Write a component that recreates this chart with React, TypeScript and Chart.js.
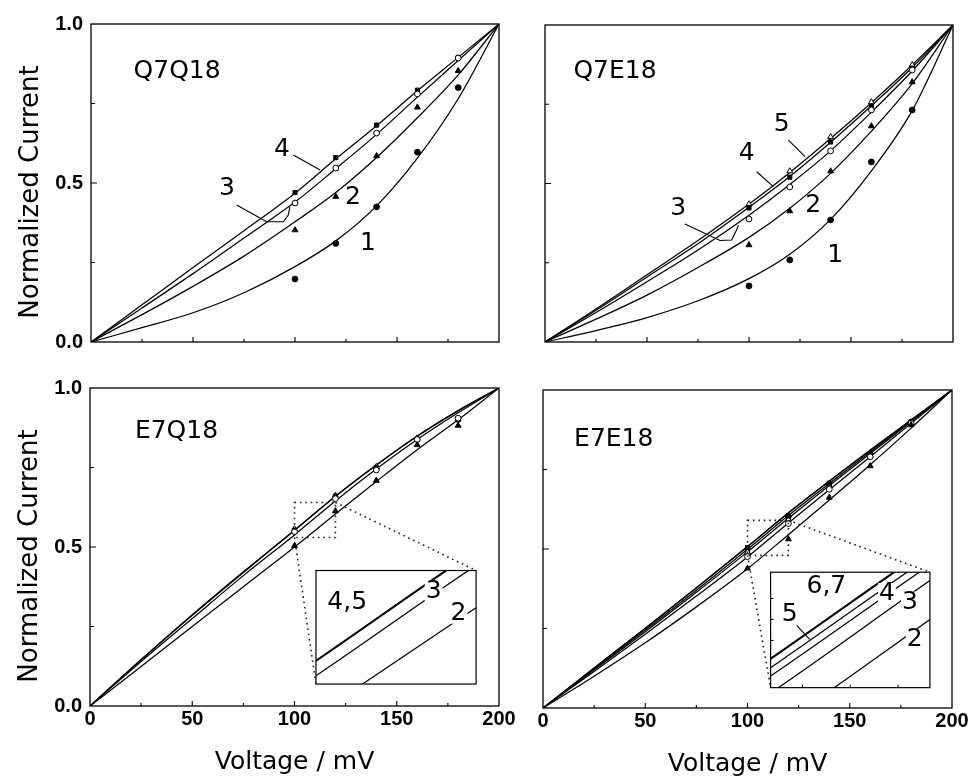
import React, { useEffect, useRef } from 'react';
import { Chart, registerables } from 'chart.js';

Chart.register(...registerables);

// ---------------- data ----------------
const VOLTAGE_FIT = [0, 25, 50, 75, 100, 120, 140, 160, 180, 200];
const VOLTAGE_MEAS = [100, 120, 140, 160, 180];
const X_TICKS = [0, 25, 50, 75, 100, 125, 150, 175, 200];
const X_LABELED = [0, 50, 100, 150, 200];
const Y_TICKS = [0, 0.25, 0.5, 0.75, 1.0];
const Y_LABELED = [0, 0.5, 1.0];

// Q7Q18
const Q7Q18_FIT1 = [0, 0.045, 0.092, 0.155, 0.237, 0.318, 0.428, 0.578, 0.765, 1.0];
const Q7Q18_FIT2 = [0, 0.086, 0.175, 0.27, 0.378, 0.47, 0.58, 0.705, 0.84, 1.0];
const Q7Q18_FIT3 = [0, 0.107, 0.215, 0.327, 0.44, 0.545, 0.653, 0.77, 0.885, 1.0];
const Q7Q18_FIT4 = [0, 0.117, 0.234, 0.35, 0.468, 0.576, 0.68, 0.79, 0.895, 1.0];
const Q7Q18_MEAS1 = [0.198, 0.31, 0.425, 0.597, 0.8];
const Q7Q18_MEAS2 = [0.352, 0.457, 0.585, 0.738, 0.853];
const Q7Q18_MEAS3 = [0.437, 0.547, 0.657, 0.78, 0.893];
const Q7Q18_MEAS4 = [0.47, 0.58, 0.682, 0.792, 0.895];

// Q7E18
const Q7E18_FIT1 = [0, 0.036, 0.077, 0.13, 0.2, 0.277, 0.387, 0.54, 0.73, 1.0];
const Q7E18_FIT2 = [0, 0.072, 0.148, 0.235, 0.33, 0.422, 0.532, 0.665, 0.815, 1.0];
const Q7E18_FIT3 = [0, 0.093, 0.19, 0.29, 0.4, 0.497, 0.603, 0.725, 0.855, 1.0];
const Q7E18_FIT4 = [0, 0.1, 0.205, 0.31, 0.425, 0.522, 0.63, 0.745, 0.866, 1.0];
const Q7E18_FIT5 = [0, 0.104, 0.212, 0.32, 0.435, 0.535, 0.642, 0.755, 0.874, 1.0];
const Q7E18_MEAS1 = [0.177, 0.259, 0.385, 0.568, 0.732];
const Q7E18_MEAS2 = [0.306, 0.413, 0.539, 0.681, 0.82];
const Q7E18_MEAS3 = [0.388, 0.489, 0.603, 0.732, 0.858];
const Q7E18_MEAS4 = [0.423, 0.52, 0.631, 0.744, 0.864];
const Q7E18_MEAS5 = [0.435, 0.539, 0.647, 0.757, 0.874];

// E7Q18
const E7Q18_FIT2 = [0, 0.124, 0.25, 0.375, 0.5, 0.604, 0.706, 0.806, 0.9, 1.0];
const E7Q18_FIT3 = [0, 0.14, 0.275, 0.41, 0.538, 0.645, 0.745, 0.838, 0.922, 1.0];
const E7Q18_FIT4 = [0, 0.145, 0.285, 0.42, 0.552, 0.659, 0.757, 0.848, 0.928, 1.0];
const E7Q18_FIT5 = [0, 0.146, 0.287, 0.422, 0.553, 0.66, 0.758, 0.849, 0.929, 1.0];
const E7Q18_MEAS2 = [0.504, 0.613, 0.709, 0.821, 0.882];
const E7Q18_MEAS3 = [0.548, 0.652, 0.742, 0.838, 0.905];
const E7Q18_MEAS4 = [0.553, 0.66, 0.75, 0.84, 0.9];
const E7Q18_MEAS5 = [0.556, 0.662, 0.752, 0.842, 0.902];

// E7E18
const E7E18_FIT2 = [0, 0.1, 0.205, 0.318, 0.438, 0.545, 0.654, 0.765, 0.88, 1.0];
const E7E18_FIT3 = [0, 0.115, 0.232, 0.352, 0.475, 0.582, 0.686, 0.79, 0.895, 1.0];
const E7E18_FIT4 = [0, 0.12, 0.24, 0.364, 0.491, 0.597, 0.7, 0.8, 0.9, 1.0];
const E7E18_FIT5 = [0, 0.123, 0.245, 0.37, 0.499, 0.605, 0.706, 0.805, 0.903, 1.0];
const E7E18_FIT6 = [0, 0.126, 0.25, 0.377, 0.507, 0.613, 0.713, 0.81, 0.906, 1.0];
const E7E18_FIT7 = [0, 0.126, 0.251, 0.378, 0.508, 0.614, 0.714, 0.811, 0.906, 1.0];
const E7E18_MEAS2 = [0.439, 0.531, 0.662, 0.761, 0.89];
const E7E18_MEAS3 = [0.476, 0.58, 0.688, 0.79, 0.895];
const E7E18_MEAS4 = [0.504, 0.604, 0.707, 0.799, 0.9];
const E7E18_MEAS5 = [0.49, 0.593, 0.698, 0.795, 0.897];
const E7E18_MEAS6 = [0.495, 0.598, 0.702, 0.797, 0.898];
const E7E18_MEAS7 = [0.5, 0.601, 0.705, 0.8, 0.9];

// ---------------- styling / layout ----------------
const W = 971;
const H = 777;
const INK = '#000';
const FONT_TEXT = '"DejaVu Sans", sans-serif';
const FONT_TICK = '"Liberation Sans", Arial, sans-serif';
const TEXT_SIZE = 25;

type Mark = 'dot' | 'ring' | 'tri' | 'otri' | 'sq' | 'osq' | 'dia';
const MARK_STYLE: Record<Mark, { style: string; fill: string; r: number }> = {
  dot: { style: 'circle', fill: INK, r: 2.9 },
  ring: { style: 'circle', fill: '#fff', r: 2.9 },
  tri: { style: 'triangle', fill: INK, r: 3.4 },
  otri: { style: 'triangle', fill: '#fff', r: 3.4 },
  sq: { style: 'rect', fill: INK, r: 2.9 },
  osq: { style: 'rect', fill: '#fff', r: 2.9 },
  dia: { style: 'rectRot', fill: INK, r: 3.1 },
};

interface Series { fit: number[]; meas: number[]; mark: Mark }
interface Note { text: string; x: number; y: number; bg?: boolean }
type Leader = [number, number][];
interface ZoomDef {
  xRange: [number, number];
  yRange: [number, number];
  boxX: [number, number];
  boxY: [number, number];
  notes: Note[];
  leaders: Leader[];
  ticksX: number[];
  ticksY: number[];
}
interface PanelDef {
  area: [number, number, number, number];
  yAxis: boolean;
  xAxis: boolean;
  series: Series[];
  notes: Note[];
  leaders: Leader[];
  zoom?: ZoomDef;
}

const PANELS: PanelDef[] = [
  {
    area: [91, 24, 499, 342],
    yAxis: true,
    xAxis: false,
    series: [
      { fit: Q7Q18_FIT1, meas: Q7Q18_MEAS1, mark: 'dot' },
      { fit: Q7Q18_FIT2, meas: Q7Q18_MEAS2, mark: 'tri' },
      { fit: Q7Q18_FIT3, meas: Q7Q18_MEAS3, mark: 'ring' },
      { fit: Q7Q18_FIT4, meas: Q7Q18_MEAS4, mark: 'sq' },
    ],
    notes: [
      { text: 'Q7Q18', x: 42.2, y: 0.852 },
      { text: '4', x: 93.6, y: 0.604 },
      { text: '3', x: 66.7, y: 0.484 },
      { text: '2', x: 128.4, y: 0.453 },
      { text: '1', x: 135.8, y: 0.311 },
    ],
    leaders: [
      [[99.2, 0.588], [112.3, 0.541]],
      [[71.4, 0.431], [86.1, 0.378], [94.3, 0.378], [96.7, 0.399], [97.5, 0.425]],
    ],
  },
  {
    area: [545, 25, 953, 342],
    yAxis: false,
    xAxis: false,
    series: [
      { fit: Q7E18_FIT1, meas: Q7E18_MEAS1, mark: 'dot' },
      { fit: Q7E18_FIT2, meas: Q7E18_MEAS2, mark: 'tri' },
      { fit: Q7E18_FIT3, meas: Q7E18_MEAS3, mark: 'ring' },
      { fit: Q7E18_FIT4, meas: Q7E18_MEAS4, mark: 'sq' },
      { fit: Q7E18_FIT5, meas: Q7E18_MEAS5, mark: 'otri' },
    ],
    notes: [
      { text: 'Q7E18', x: 34.3, y: 0.852 },
      { text: '5', x: 116, y: 0.685 },
      { text: '4', x: 98.9, y: 0.595 },
      { text: '3', x: 65.3, y: 0.422 },
      { text: '2', x: 131.5, y: 0.432 },
      { text: '1', x: 142.2, y: 0.274 },
    ],
    leaders: [
      [[119.3, 0.637], [127.5, 0.585]],
      [[103.8, 0.537], [111.9, 0.49]],
      [[68.6, 0.372], [85.8, 0.32], [91.5, 0.322], [93.9, 0.353], [94.8, 0.369]],
    ],
  },
  {
    area: [90, 388, 499, 706],
    yAxis: true,
    xAxis: true,
    series: [
      { fit: E7Q18_FIT2, meas: E7Q18_MEAS2, mark: 'tri' },
      { fit: E7Q18_FIT3, meas: E7Q18_MEAS3, mark: 'ring' },
      { fit: E7Q18_FIT4, meas: E7Q18_MEAS4, mark: 'sq' },
      { fit: E7Q18_FIT5, meas: E7Q18_MEAS5, mark: 'otri' },
    ],
    notes: [{ text: 'E7Q18', x: 42.3, y: 0.863 }],
    leaders: [],
    zoom: {
      xRange: [100, 120],
      yRange: [0.53, 0.64],
      boxX: [110.5, 188.8],
      boxY: [0.069, 0.426],
      notes: [
        { text: '4,5', x: 103.9, y: 0.609 },
        { text: '3', x: 114.7, y: 0.62, bg: true },
        { text: '2', x: 117.8, y: 0.5986, bg: true },
      ],
      leaders: [],
      ticksX: [],
      ticksY: [],
    },
  },
  {
    area: [543, 390, 952, 708],
    yAxis: false,
    xAxis: true,
    series: [
      { fit: E7E18_FIT2, meas: E7E18_MEAS2, mark: 'tri' },
      { fit: E7E18_FIT3, meas: E7E18_MEAS3, mark: 'ring' },
      { fit: E7E18_FIT4, meas: E7E18_MEAS4, mark: 'sq' },
      { fit: E7E18_FIT5, meas: E7E18_MEAS5, mark: 'otri' },
      { fit: E7E18_FIT6, meas: E7E18_MEAS6, mark: 'osq' },
      { fit: E7E18_FIT7, meas: E7E18_MEAS7, mark: 'dia' },
    ],
    notes: [{ text: 'E7E18', x: 34.6, y: 0.843 }],
    leaders: [],
    zoom: {
      xRange: [100, 120],
      yRange: [0.48, 0.59],
      boxX: [111.3, 189.2],
      boxY: [0.064, 0.427],
      notes: [
        { text: '6,7', x: 107.0, y: 0.576 },
        { text: '5', x: 102.4, y: 0.55 },
        { text: '4', x: 114.6, y: 0.5696, bg: true },
        { text: '3', x: 117.5, y: 0.5615, bg: true },
        { text: '2', x: 118.1, y: 0.526, bg: true },
      ],
      leaders: [[[103.3, 0.539], [104.9, 0.526]]],
      ticksX: [104, 110, 116],
      ticksY: [0.525, 0.545, 0.565],
    },
  },
];

// ---------------- helpers ----------------
function buildDatasets(series: Series[], withMarks: boolean) {
  const ds: any[] = [];
  series.forEach((s) => {
    ds.push({
      type: 'line',
      data: VOLTAGE_FIT.map((v, i) => ({ x: v, y: s.fit[i] })),
      borderColor: INK,
      borderWidth: 1.25,
      pointRadius: 0,
      fill: false,
      cubicInterpolationMode: 'monotone',
      order: 2,
    });
    if (withMarks) {
      const m = MARK_STYLE[s.mark];
      ds.push({
        type: 'line',
        showLine: false,
        data: VOLTAGE_MEAS.map((v, i) => ({ x: v, y: s.meas[i] })),
        pointStyle: m.style,
        pointRadius: m.r,
        pointBackgroundColor: m.fill,
        pointBorderColor: INK,
        pointBorderWidth: 1,
        order: 1,
      });
    }
  });
  return ds;
}

function drawNotes(ctx: CanvasRenderingContext2D, xs: any, ys: any, notes: Note[]) {
  ctx.font = `${TEXT_SIZE}px ${FONT_TEXT}`;
  ctx.textAlign = 'center';
  ctx.textBaseline = 'middle';
  notes.forEach((n) => {
    const px = xs.getPixelForValue(n.x);
    const py = ys.getPixelForValue(n.y);
    if (n.bg) {
      const w = ctx.measureText(n.text).width;
      ctx.fillStyle = '#fff';
      ctx.fillRect(px - w / 2 - 1, py - TEXT_SIZE * 0.42, w + 2, TEXT_SIZE * 0.84);
    }
    ctx.fillStyle = INK;
    ctx.fillText(n.text, px, py);
  });
}

function drawLeaders(ctx: CanvasRenderingContext2D, xs: any, ys: any, leaders: Leader[]) {
  ctx.strokeStyle = INK;
  ctx.lineWidth = 1.1;
  ctx.setLineDash([]);
  leaders.forEach((pts) => {
    ctx.beginPath();
    pts.forEach(([vx, vy], i) => {
      const px = xs.getPixelForValue(vx);
      const py = ys.getPixelForValue(vy);
      if (i === 0) ctx.moveTo(px, py);
      else ctx.lineTo(px, py);
    });
    ctx.stroke();
  });
}

function mainDeco(p: PanelDef) {
  return {
    id: 'mainDeco',
    afterDatasetsDraw(chart: any) {
      const { ctx, chartArea: a } = chart;
      const xs = chart.scales.x;
      const ys = chart.scales.y;
      ctx.save();
      ctx.strokeStyle = INK;
      ctx.fillStyle = INK;
      ctx.setLineDash([]);
      // frame
      ctx.lineWidth = 1.3;
      ctx.strokeRect(a.left, a.top, a.right - a.left, a.bottom - a.top);
      // inward ticks
      ctx.lineWidth = 1.1;
      ctx.beginPath();
      X_TICKS.forEach((v) => {
        if (v === X_TICKS[0] || v === X_TICKS[X_TICKS.length - 1]) return;
        const px = xs.getPixelForValue(v);
        const len = X_LABELED.includes(v) ? 5 : 3;
        ctx.moveTo(px, a.bottom);
        ctx.lineTo(px, a.bottom - len);
      });
      Y_TICKS.forEach((v) => {
        if (v === Y_TICKS[0] || v === Y_TICKS[Y_TICKS.length - 1]) return;
        const py = ys.getPixelForValue(v);
        const len = Y_LABELED.includes(v) ? 6 : 4;
        ctx.moveTo(a.left, py);
        ctx.lineTo(a.left + len, py);
      });
      ctx.stroke();
      drawLeaders(ctx, xs, ys, p.leaders);
      drawNotes(ctx, xs, ys, p.notes);
      // zoom rectangle and connectors
      if (p.zoom) {
        const z = p.zoom;
        const rx0 = xs.getPixelForValue(z.xRange[0]);
        const rx1 = xs.getPixelForValue(z.xRange[1]);
        const ryB = ys.getPixelForValue(z.yRange[0]);
        const ryT = ys.getPixelForValue(z.yRange[1]);
        const bx0 = xs.getPixelForValue(z.boxX[0]);
        const bx1 = xs.getPixelForValue(z.boxX[1]);
        const byB = ys.getPixelForValue(z.boxY[0]);
        const byT = ys.getPixelForValue(z.boxY[1]);
        ctx.setLineDash([1.6, 3.8]);
        ctx.lineWidth = 1.6;
        ctx.strokeStyle = '#222';
        ctx.strokeRect(rx0, ryT, rx1 - rx0, ryB - ryT);
        ctx.beginPath();
        ctx.moveTo(rx1, ryT);
        ctx.lineTo(bx1, byT);
        ctx.moveTo(rx0, ryB);
        ctx.lineTo(bx0, byB);
        ctx.stroke();
        ctx.setLineDash([]);
      }
      // y-axis title
      if (p.yAxis) {
        ctx.save();
        ctx.translate(a.left - 60, (a.top + a.bottom) / 2 + 9);
        ctx.rotate(-Math.PI / 2);
        ctx.font = `26px ${FONT_TEXT}`;
        ctx.textAlign = 'center';
        ctx.textBaseline = 'middle';
        ctx.fillStyle = INK;
        ctx.fillText('Normalized Current', 0, 0);
        ctx.restore();
      }
      ctx.restore();
    },
  };
}

function insetDeco(z: ZoomDef) {
  return {
    id: 'insetDeco',
    beforeDatasetsDraw(chart: any) {
      const { ctx, chartArea: a } = chart;
      ctx.save();
      ctx.fillStyle = '#fff';
      ctx.fillRect(a.left, a.top, a.right - a.left, a.bottom - a.top);
      ctx.restore();
    },
    afterDatasetsDraw(chart: any) {
      const { ctx, chartArea: a } = chart;
      const xs = chart.scales.x;
      const ys = chart.scales.y;
      ctx.save();
      ctx.strokeStyle = INK;
      ctx.lineWidth = 1.2;
      ctx.setLineDash([]);
      ctx.strokeRect(a.left, a.top, a.right - a.left, a.bottom - a.top);
      ctx.lineWidth = 1;
      ctx.beginPath();
      z.ticksX.forEach((v) => {
        const px = xs.getPixelForValue(v);
        ctx.moveTo(px, a.bottom);
        ctx.lineTo(px, a.bottom - 3);
      });
      z.ticksY.forEach((v) => {
        const py = ys.getPixelForValue(v);
        ctx.moveTo(a.left, py);
        ctx.lineTo(a.left + 3, py);
      });
      ctx.stroke();
      drawLeaders(ctx, xs, ys, z.leaders);
      drawNotes(ctx, xs, ys, z.notes);
      ctx.restore();
    },
  };
}

function mainConfig(p: PanelDef): any {
  const [L, T, R, B] = p.area;
  const yW = p.yAxis ? 76 : 0;
  const xH = p.xAxis ? 71 : 0;
  return {
    type: 'line',
    data: { datasets: buildDatasets(p.series, true) },
    options: {
      responsive: false,
      animation: false,
      events: [],
      layout: { padding: { left: L - yW, top: T, right: W - R, bottom: H - B - xH } },
      plugins: { legend: { display: false }, tooltip: { enabled: false }, title: { display: false } },
      scales: {
        x: {
          type: 'linear',
          min: X_TICKS[0],
          max: X_TICKS[X_TICKS.length - 1],
          display: p.xAxis,
          afterFit: (s: any) => { s.height = xH; },
          grid: { display: false, drawTicks: false },
          border: { display: false },
          ticks: {
            stepSize: 25,
            autoSkip: false,
            maxRotation: 0,
            padding: 1,
            color: INK,
            font: { family: FONT_TICK, size: 20, weight: 'bold' },
            callback: (v: number) => (X_LABELED.includes(v) ? String(v) : ''),
          },
          title: {
            display: p.xAxis,
            text: 'Voltage / mV',
            color: INK,
            padding: 0,
            font: { family: FONT_TEXT, size: 25 },
          },
        },
        y: {
          type: 'linear',
          min: Y_TICKS[0],
          max: Y_TICKS[Y_TICKS.length - 1],
          display: p.yAxis,
          afterFit: (s: any) => { s.width = yW; },
          grid: { display: false, drawTicks: false },
          border: { display: false },
          ticks: {
            stepSize: 0.25,
            autoSkip: false,
            padding: 8,
            color: INK,
            font: { family: FONT_TICK, size: 20, weight: 'bold' },
            callback: (v: number) =>
              Y_LABELED.some((l) => Math.abs(l - v) < 1e-9) ? v.toFixed(1) : '',
          },
        },
      },
    },
    plugins: [mainDeco(p)],
  };
}

function insetConfig(p: PanelDef, main: any): any {
  const z = p.zoom as ZoomDef;
  const xs = main.scales.x;
  const ys = main.scales.y;
  const l = xs.getPixelForValue(z.boxX[0]);
  const r = xs.getPixelForValue(z.boxX[1]);
  const t = ys.getPixelForValue(z.boxY[1]);
  const b = ys.getPixelForValue(z.boxY[0]);
  return {
    type: 'line',
    data: { datasets: buildDatasets(p.series, false) },
    options: {
      responsive: false,
      animation: false,
      events: [],
      layout: { padding: { left: l, top: t, right: W - r, bottom: H - b } },
      plugins: { legend: { display: false }, tooltip: { enabled: false }, title: { display: false } },
      scales: {
        x: { type: 'linear', display: false, min: z.xRange[0], max: z.xRange[1] },
        y: { type: 'linear', display: false, min: z.yRange[0], max: z.yRange[1] },
      },
    },
    plugins: [insetDeco(z)],
  };
}

export default function App() {
  const refs = useRef<(HTMLCanvasElement | null)[]>([]);
  useEffect(() => {
    const charts: Chart[] = [];
    PANELS.forEach((p, i) => {
      const mainCanvas = refs.current[i * 2];
      if (!mainCanvas) return;
      const main = new Chart(mainCanvas, mainConfig(p));
      charts.push(main);
      const insetCanvas = refs.current[i * 2 + 1];
      if (p.zoom && insetCanvas) {
        charts.push(new Chart(insetCanvas, insetConfig(p, main)));
      }
    });
    return () => charts.forEach((c) => c.destroy());
  }, []);
  return (
    <div
      style={{
        position: 'absolute',
        left: 0,
        top: 0,
        width: W,
        height: H,
        background: '#fff',
        overflow: 'hidden',
      }}
    >
      {Array.from({ length: PANELS.length * 2 }).map((_, k) => (
        <canvas
          key={k}
          ref={(el) => {
            refs.current[k] = el;
          }}
          width={W}
          height={H}
          style={{ position: 'absolute', left: 0, top: 0, width: W, height: H }}
        />
      ))}
    </div>
  );
}
